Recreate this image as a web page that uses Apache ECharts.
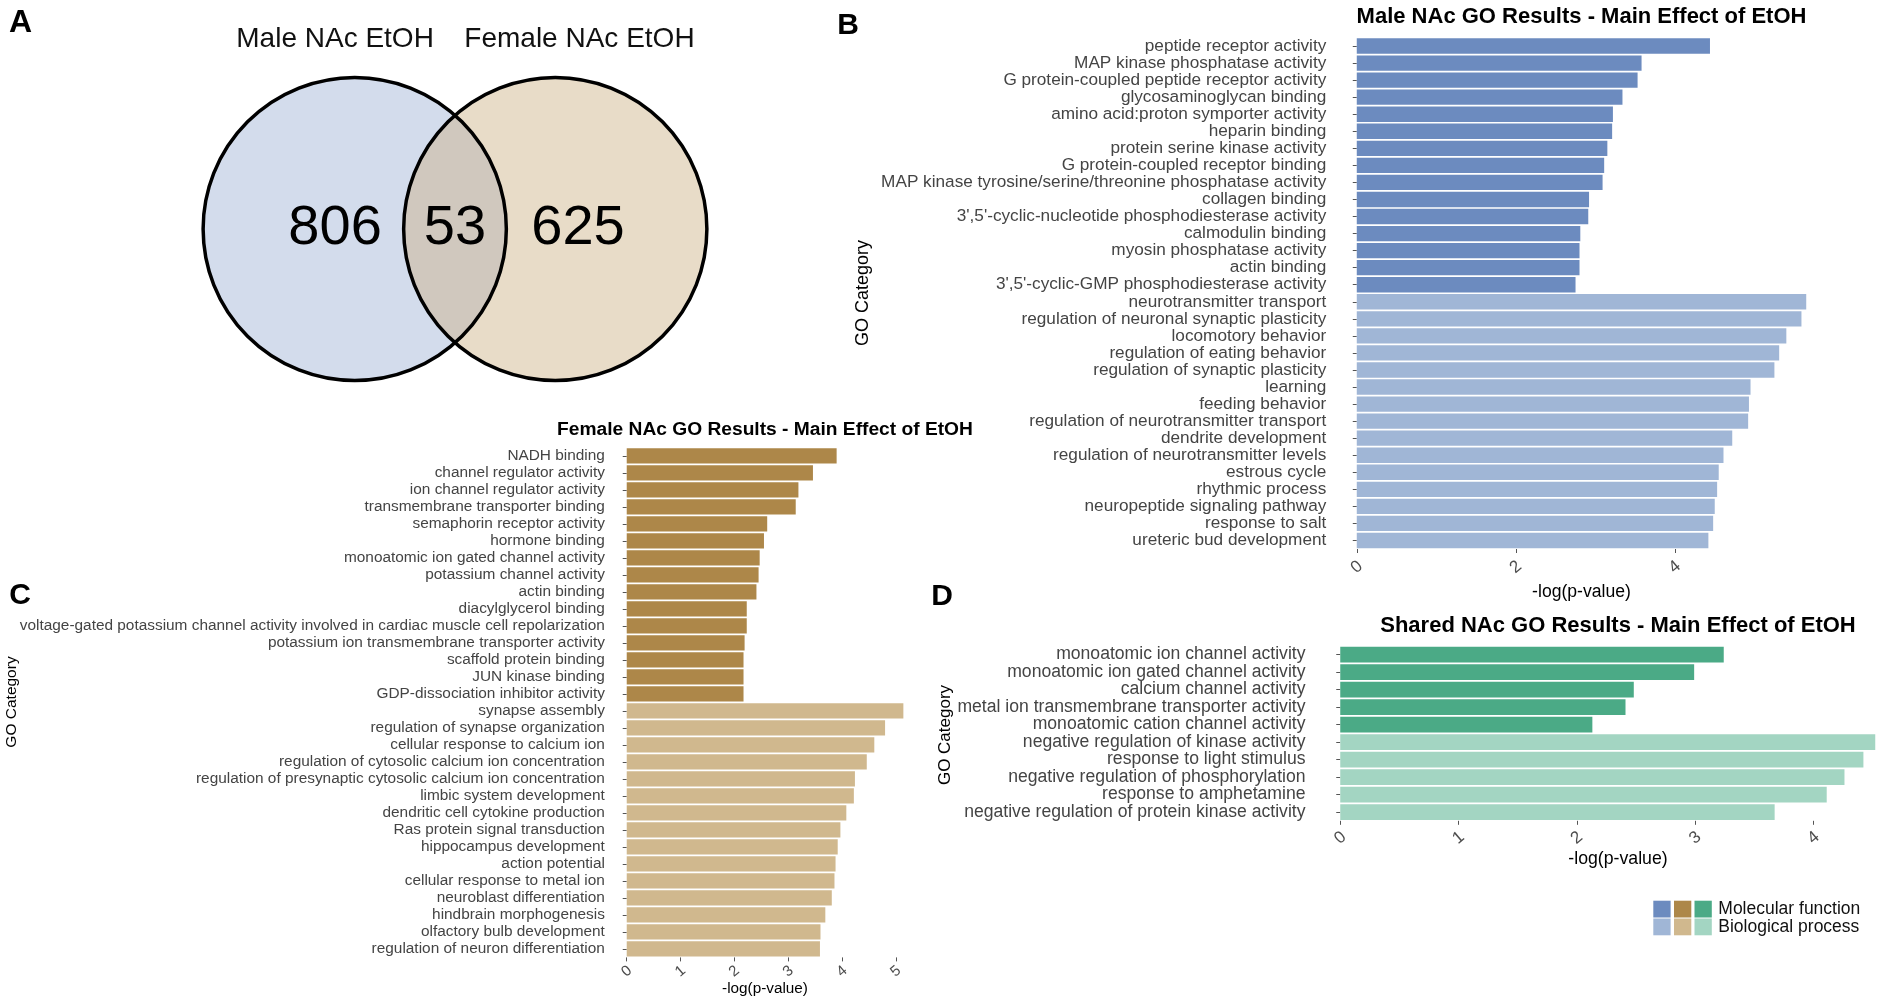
<!DOCTYPE html>
<html><head><meta charset="utf-8">
<script src="https://cdn.jsdelivr.net/npm/echarts@6/dist/echarts.min.js"></script>
<style>html,body{margin:0;padding:0;background:#fff;}#c{width:1902px;height:1003px;}</style>
</head><body><div id="c"></div>
<script>
// ---------------- DATA ----------------
const vennSets = ['Male NAc EtOH', 'Female NAc EtOH'];
const vennCounts = [806, 53, 625]; // male only, shared, female only

const maleMFTerms = ['peptide receptor activity','MAP kinase phosphatase activity','G protein-coupled peptide receptor activity','glycosaminoglycan binding','amino acid:proton symporter activity','heparin binding','protein serine kinase activity','G protein-coupled receptor binding','MAP kinase tyrosine/serine/threonine phosphatase activity','collagen binding',"3',5'-cyclic-nucleotide phosphodiesterase activity",'calmodulin binding','myosin phosphatase activity','actin binding',"3',5'-cyclic-GMP phosphodiesterase activity"];
const maleMFValues = [4.44,3.58,3.53,3.34,3.22,3.21,3.15,3.11,3.09,2.92,2.91,2.81,2.80,2.80,2.75];
const maleBPTerms = ['neurotransmitter transport','regulation of neuronal synaptic plasticity','locomotory behavior','regulation of eating behavior','regulation of synaptic plasticity','learning','feeding behavior','regulation of neurotransmitter transport','dendrite development','regulation of neurotransmitter levels','estrous cycle','rhythmic process','neuropeptide signaling pathway','response to salt','ureteric bud development'];
const maleBPValues = [5.65,5.59,5.40,5.31,5.25,4.95,4.93,4.92,4.72,4.61,4.55,4.53,4.50,4.48,4.42];
const maleTicks = [0,2,4];

const femaleMFTerms = ['NADH binding','channel regulator activity','ion channel regulator activity','transmembrane transporter binding','semaphorin receptor activity','hormone binding','monoatomic ion gated channel activity','potassium channel activity','actin binding','diacylglycerol binding','voltage-gated potassium channel activity involved in cardiac muscle cell repolarization','potassium ion transmembrane transporter activity','scaffold protein binding','JUN kinase binding','GDP-dissociation inhibitor activity'];
const femaleMFValues = [3.90,3.46,3.19,3.14,2.61,2.55,2.47,2.45,2.41,2.23,2.23,2.19,2.17,2.17,2.17];
const femaleBPTerms = ['synapse assembly','regulation of synapse organization','cellular response to calcium ion','regulation of cytosolic calcium ion concentration','regulation of presynaptic cytosolic calcium ion concentration','limbic system development','dendritic cell cytokine production','Ras protein signal transduction','hippocampus development','action potential','cellular response to metal ion','neuroblast differentiation','hindbrain morphogenesis','olfactory bulb development','regulation of neuron differentiation'];
const femaleBPValues = [5.14,4.80,4.60,4.46,4.24,4.22,4.08,3.97,3.92,3.88,3.86,3.81,3.69,3.60,3.59];
const femaleTicks = [0,1,2,3,4,5];

const sharedMFTerms = ['monoatomic ion channel activity','monoatomic ion gated channel activity','calcium channel activity','metal ion transmembrane transporter activity','monoatomic cation channel activity'];
const sharedMFValues = [3.24,2.99,2.48,2.41,2.13];
const sharedBPTerms = ['negative regulation of kinase activity','response to light stimulus','negative regulation of phosphorylation','response to amphetamine','negative regulation of protein kinase activity'];
const sharedBPValues = [4.52,4.42,4.26,4.11,3.67];
const sharedTicks = [0,1,2,3,4];

const legendLabels = ['Molecular function','Biological process'];

// ---------------- STYLE ----------------
const FF = '"Liberation Sans", Arial, Helvetica, sans-serif';
const COL = {
  maleMF:'#6c8bbf', maleBP:'#a0b6d6',
  femaleMF:'#ad8749', femaleBP:'#d0b88e',
  sharedMF:'#4baa86', sharedBP:'#a3d5c2'
};
const VD = 1.326; // centre distance of venn circles (radius = 1)

const chart = echarts.init(document.getElementById('c'), null, {renderer:'canvas'});

function cats(a,b){return a.concat(b);}
function barData(mfV,bpV,cMF,cBP){
  return mfV.map(v=>({value:v,itemStyle:{color:cMF}})).concat(bpV.map(v=>({value:v,itemStyle:{color:cBP}})));
}
function xAx(gi,ticks,margin,fs){
  return {type:'value',gridIndex:gi,
    min:e=>-0.05*e.max, max:e=>1.05*e.max,
    axisLine:{show:false}, splitLine:{show:false},
    axisTick:{show:true,length:4,customValues:ticks,lineStyle:{color:'#555',width:1}},
    axisLabel:{customValues:ticks,rotate:40,align:'center',verticalAlign:'middle',margin:margin,fontSize:fs,color:'#4d4d4d',fontFamily:FF}};
}
function yAx(gi,data,fs){
  return {type:'category',gridIndex:gi,inverse:true,data:data,
    axisLine:{show:false}, splitLine:{show:false},
    axisTick:{show:true,length:4,alignWithLabel:true,interval:0,lineStyle:{color:'#555',width:1}},
    axisLabel:{interval:0,margin:8,fontSize:fs,color:'#444',fontFamily:FF}};
}

function txt(x,y,text,size,opt){
  opt=opt||{};
  return {type:'text',x:x,y:y,rotation:opt.rot||0,silent:true,
    style:{text:text,fill:opt.color||'#000',font:(opt.bold?'bold ':'')+size+'px '+FF,
      align:opt.align||'center',verticalAlign:'middle'}};
}

const graphics = [
  txt(20.5,23.5,'A',32,{bold:true}),
  txt(848,26,'B',30,{bold:true}),
  txt(20,596,'C',30,{bold:true}),
  txt(942,597,'D',30,{bold:true}),
  txt(1581.5,16.7,'Male NAc GO Results - Main Effect of EtOH',22,{bold:true}),
  txt(765,430,'Female NAc GO Results - Main Effect of EtOH',19.2,{bold:true}),
  txt(1618,626,'Shared NAc GO Results - Main Effect of EtOH',22,{bold:true}),
  txt(1581.5,592,'-log(p-value)',17.6),
  txt(765,989,'-log(p-value)',15.3),
  txt(1618,859,'-log(p-value)',17.7),
  txt(863,293,'GO Category',18,{rot:Math.PI/2}),
  txt(12,702,'GO Category',15.5,{rot:Math.PI/2}),
  txt(945,735,'GO Category',17,{rot:Math.PI/2})
];
// legend
const legCols = [[COL.maleMF,COL.femaleMF,COL.sharedMF],[COL.maleBP,COL.femaleBP,COL.sharedBP]];
const legX = [1653.3,1674,1694.5], legY = [900.7,918.5];
legCols.forEach((row,ri)=>{
  row.forEach((c,ci)=>{
    graphics.push({type:'rect',silent:true,shape:{x:legX[ci],y:legY[ri],width:17.3,height:16.8},style:{fill:c}});
  });
  graphics.push(txt(1718.3,legY[ri]+8.6,legendLabels[ri],17.5,{align:'left',color:'#111'}));
});

const option = {
  animation:false,
  backgroundColor:'#fff',
  grid:[
    {left:203.5,top:77,width:503,height:304},
    {left:1334.3,top:37.5,width:494.4,height:511.5},
    {left:612.9,top:447.4,width:304.3,height:510},
    {left:1313.5,top:645.8,width:609,height:175}
  ],
  xAxis:[
    {type:'value',gridIndex:0,min:-1,max:1+VD,show:false},
    xAx(1,maleTicks,18,17),
    xAx(2,femaleTicks,14,15),
    xAx(3,sharedTicks,17,17)
  ],
  yAxis:[
    {type:'value',gridIndex:0,min:-1,max:1,show:false},
    yAx(1,cats(maleMFTerms,maleBPTerms),17.2),
    yAx(2,cats(femaleMFTerms,femaleBPTerms),15.4),
    yAx(3,cats(sharedMFTerms,sharedBPTerms),17.6)
  ],
  series:[
    {type:'custom',xAxisIndex:0,yAxisIndex:0,silent:true,clip:false,
     data:[[0,0]],
     renderItem:function(params,api){
       const c1=api.coord([0,0]), c2=api.coord([VD,0]);
       const sz=api.size([1,1]); const r=(sz[0]+sz[1])/2;
       const a=(c2[0]-c1[0])/2, h=Math.sqrt(r*r-a*a), mx=c1[0]+a, cy=c1[1];
       const lens='M '+mx+' '+(cy-h)+' A '+r+' '+r+' 0 0 1 '+mx+' '+(cy+h)+' A '+r+' '+r+' 0 0 1 '+mx+' '+(cy-h)+' Z';
       const up=api.coord([0,1.25])[1];
       const lx1=api.coord([-0.13,0])[0], lx2=api.coord([VD+0.15,0])[0];
       const nFont='56px '+FF, sFont='28px '+FF;
       return {type:'group',children:[
         {type:'circle',shape:{cx:c1[0],cy:cy,r:r},style:{fill:'#d3dcec'}},
         {type:'circle',shape:{cx:c2[0],cy:cy,r:r},style:{fill:'#e8dcc8'}},
         {type:'path',shape:{pathData:lens},style:{fill:'#d0c8be'}},
         {type:'circle',shape:{cx:c1[0],cy:cy,r:r},style:{fill:'none',stroke:'#000',lineWidth:3.5}},
         {type:'circle',shape:{cx:c2[0],cy:cy,r:r},style:{fill:'none',stroke:'#000',lineWidth:3.5}},
         {type:'text',style:{x:lx1,y:cy,text:String(vennCounts[0]),font:nFont,fill:'#000',align:'center',verticalAlign:'middle'}},
         {type:'text',style:{x:mx,y:cy,text:String(vennCounts[1]),font:nFont,fill:'#000',align:'center',verticalAlign:'middle'}},
         {type:'text',style:{x:lx2,y:cy,text:String(vennCounts[2]),font:nFont,fill:'#000',align:'center',verticalAlign:'middle'}},
         {type:'text',style:{x:lx1,y:up,text:vennSets[0],font:sFont,fill:'#111',align:'center',verticalAlign:'middle'}},
         {type:'text',style:{x:api.coord([VD+0.16,0])[0],y:up,text:vennSets[1],font:sFont,fill:'#111',align:'center',verticalAlign:'middle'}}
       ]};
     }},
    {type:'bar',xAxisIndex:1,yAxisIndex:1,barCategoryGap:'10%',silent:true,data:barData(maleMFValues,maleBPValues,COL.maleMF,COL.maleBP)},
    {type:'bar',xAxisIndex:2,yAxisIndex:2,barCategoryGap:'10%',silent:true,data:barData(femaleMFValues,femaleBPValues,COL.femaleMF,COL.femaleBP)},
    {type:'bar',xAxisIndex:3,yAxisIndex:3,barCategoryGap:'10%',silent:true,data:barData(sharedMFValues,sharedBPValues,COL.sharedMF,COL.sharedBP)}
  ],
  graphic:graphics
};
chart.setOption(option);
</script></body></html>
